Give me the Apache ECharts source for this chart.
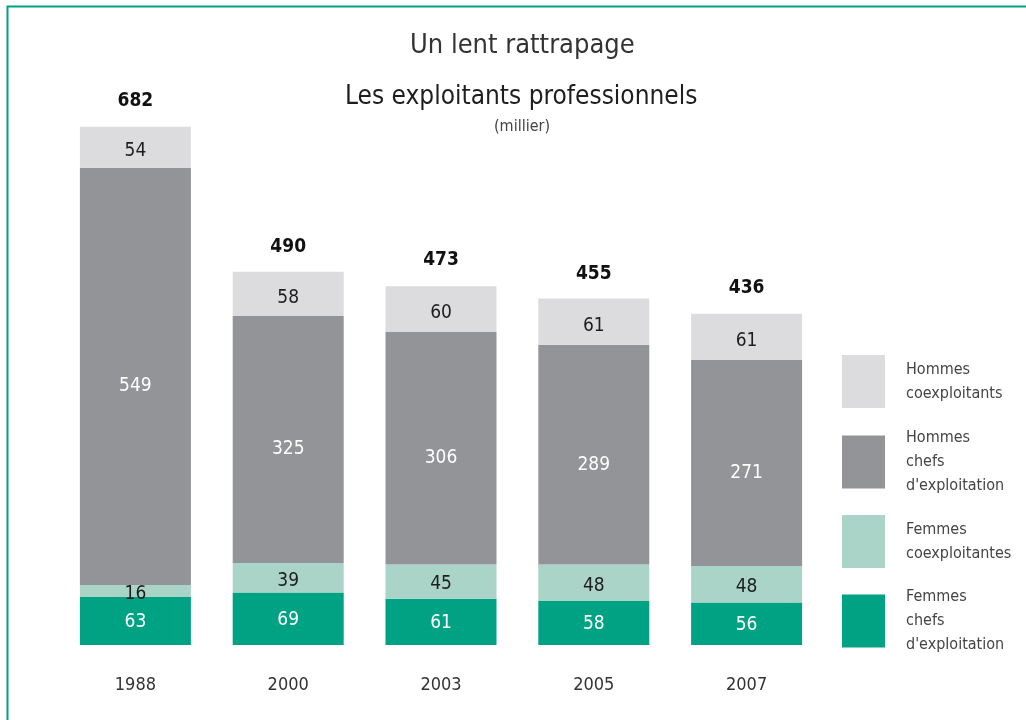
<!DOCTYPE html>
<html>
<head>
<meta charset="utf-8">
<script src="https://cdn.jsdelivr.net/npm/echarts@6/dist/echarts.min.js"></script>
<style>
html, body { margin: 0; padding: 0; background: #fff; }
#chartDiv { width: 1026px; height: 720px; }
</style>
</head>
<body>
<div id="chartDiv"></div>
<script>
var years = ['1988', '2000', '2003', '2005', '2007'];
var femmesChefs = [63, 69, 61, 58, 56];
var femmesCoexpl = [16, 39, 45, 48, 48];
var hommesChefs = [549, 325, 306, 289, 271];
var hommesCoexpl = [54, 58, 60, 61, 61];
var totals = [682, 490, 473, 455, 436];

var font = "'Liberation Sans Narrow', 'DejaVu Sans Condensed', sans-serif";
var legendNames = {
	'Hommes coexploitants': 'Hommes\ncoexploitants',
	'Hommes chefs': 'Hommes\nchefs\nd\'exploitation',
	'Femmes coexploitantes': 'Femmes\ncoexploitantes',
	'Femmes chefs': 'Femmes\nchefs\nd\'exploitation'
};

function barSeries(name, data, color, labelColor, dy) {
	return {
		name: name,
		type: 'bar',
		stack: 'total',
		data: data,
		barWidth: 111,
		itemStyle: { color: color },
		label: {
			show: true,
			position: 'inside',
			offset: [0, dy],
			color: labelColor,
			fontFamily: font,
			fontSize: 19
		},
		animation: false
	};
}

// 3 lignes de texte = 72px, le carré (53px) est centré dessus
function legendItem(name, top) {
	return {
		orient: 'vertical',
		left: 842,
		top: top,
		padding: 0,
		itemWidth: 43,
		itemHeight: 53,
		icon: 'rect',
		selectedMode: false,
		data: [name],
		formatter: function (n) { return legendNames[n]; },
		textStyle: {
			fontFamily: font,
			fontSize: 16,
			lineHeight: 24,
			color: '#444',
			padding: [0, 0, 0, 16]
		}
	};
}

var chart = echarts.init(document.getElementById('chartDiv'));

var option = {
	backgroundColor: '#fff',
	title: [
		{
			text: 'Un lent rattrapage',
			left: 405,
			top: 27,
			textStyle: { fontFamily: font, fontSize: 27, fontWeight: 'normal', color: '#333' }
		},
		{
			text: 'Les exploitants professionnels',
			left: 340,
			top: 79,
			textStyle: { fontFamily: font, fontSize: 26, fontWeight: 'normal', color: '#1e1e1e' }
		},
		{
			text: '(millier)',
			left: 489,
			top: 114,
			textStyle: { fontFamily: font, fontSize: 16, fontWeight: 'normal', color: '#444' }
		}
	],
	legend: [
		legendItem('Hommes coexploitants', 355),
		legendItem('Hommes chefs', 426),
		legendItem('Femmes coexploitantes', 515),
		legendItem('Femmes chefs', 585)
	],
	grid: {
		left: 59,
		width: 764,
		top: 113,
		bottom: 75
	},
	xAxis: {
		type: 'category',
		data: years,
		axisLine: { show: false },
		axisTick: { show: false },
		axisLabel: {
			margin: 31,
			fontFamily: font,
			fontSize: 18,
			color: '#333'
		}
	},
	yAxis: {
		type: 'value',
		min: 0,
		max: 700,
		show: false
	},
	graphic: [
		{
			type: 'rect',
			shape: { x: 7.5, y: 6.5, width: 1040, height: 740 },
			style: { fill: 'none', stroke: '#00a183', lineWidth: 2 },
			silent: true
		}
	],
	series: [
		barSeries('Femmes chefs', femmesChefs, '#00a284', '#fff', 1),
		barSeries('Femmes coexploitantes', femmesCoexpl, '#aad4c8', '#1e1e1e', 3),
		barSeries('Hommes chefs', hommesChefs, '#939497', '#fff', 10),
		barSeries('Hommes coexploitants', hommesCoexpl, '#dcdcde', '#1e1e1e', 4),
		{
			name: 'Total',
			type: 'scatter',
			data: totals,
			symbolSize: 0,
			itemStyle: { opacity: 1 },
			label: {
				show: true,
				position: 'top',
				distance: 16,
				fontFamily: font,
				fontSize: 19,
				fontWeight: 'bold',
				color: '#111'
			},
			animation: false
		}
	]
};

chart.setOption(option);
</script>
</body>
</html>
